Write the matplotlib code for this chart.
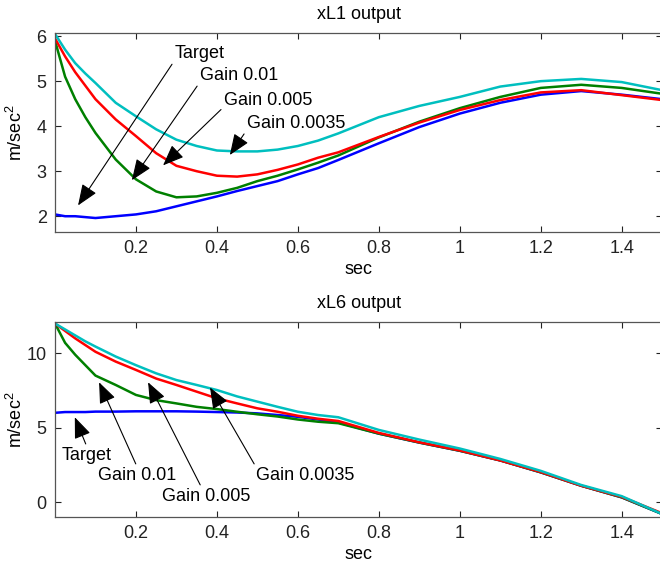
import matplotlib
matplotlib.use("Agg")
import matplotlib.pyplot as plt

plt.rcParams['font.family'] = ['Liberation Sans', 'DejaVu Sans']
plt.rcParams['mathtext.fontset'] = 'custom'
plt.rcParams['mathtext.rm'] = 'Liberation Sans'
plt.rcParams['mathtext.it'] = 'Liberation Sans:italic'
plt.rcParams['font.size'] = 13

# time samples (sec)
t = [0, 0.025, 0.05, 0.075, 0.1, 0.15, 0.2, 0.25, 0.3, 0.35, 0.4, 0.45, 0.5,
     0.55, 0.6, 0.65, 0.7, 0.8, 0.9, 1.0, 1.1, 1.2, 1.3, 1.4, 1.5]

# xL1 output
l1_target = [2.04, 2.0, 2.0, 1.98, 1.96, 2.0, 2.04, 2.11, 2.22, 2.33, 2.44, 2.56, 2.67,
             2.78, 2.93, 3.07, 3.25, 3.62, 3.98, 4.28, 4.52, 4.7, 4.78, 4.7, 4.6]
l1_g001 = [5.9, 5.1, 4.6, 4.2, 3.85, 3.26, 2.82, 2.55, 2.42, 2.44, 2.52, 2.63, 2.78,
           2.9, 3.04, 3.19, 3.35, 3.75, 4.1, 4.4, 4.65, 4.85, 4.92, 4.85, 4.72]
l1_g0005 = [5.95, 5.55, 5.2, 4.9, 4.6, 4.15, 3.78, 3.4, 3.12, 3.0, 2.9, 2.88, 2.93,
            3.03, 3.15, 3.3, 3.42, 3.76, 4.08, 4.36, 4.58, 4.75, 4.8, 4.69, 4.58]
l1_g00035 = [6.05, 5.7, 5.4, 5.17, 4.96, 4.52, 4.22, 3.93, 3.7, 3.56, 3.46, 3.44, 3.44,
             3.48, 3.56, 3.68, 3.84, 4.2, 4.45, 4.65, 4.88, 5.0, 5.05, 4.98, 4.8]

# xL6 output
l6_target = [6.0, 6.05, 6.05, 6.05, 6.08, 6.08, 6.1, 6.1, 6.1, 6.08, 6.05, 6.02, 5.96,
             5.85, 5.73, 5.55, 5.35, 4.6, 4.0, 3.45, 2.8, 2.0, 1.1, 0.32, -0.8]
l6_g001 = [12.0, 10.7, 9.9, 9.2, 8.5, 7.87, 7.2, 6.85, 6.63, 6.4, 6.25, 6.07, 5.9,
           5.75, 5.55, 5.4, 5.3, 4.6, 4.0, 3.45, 2.8, 2.0, 1.1, 0.32, -0.8]
l6_g0005 = [12.0, 11.5, 11.0, 10.55, 10.1, 9.44, 8.88, 8.3, 7.87, 7.42, 6.97, 6.63, 6.3,
            6.07, 5.8, 5.6, 5.45, 4.65, 4.02, 3.47, 2.8, 2.02, 1.1, 0.35, -0.75]
l6_g00035 = [12.0, 11.6, 11.2, 10.8, 10.45, 9.78, 9.2, 8.65, 8.2, 7.87, 7.53, 7.1, 6.75,
             6.4, 6.07, 5.85, 5.7, 4.85, 4.2, 3.6, 2.9, 2.1, 1.15, 0.4, -0.8]

labels = ['Target', 'Gain 0.01', 'Gain 0.005', 'Gain 0.0035']
colors = ['#0000ff', '#008000', '#ff0000', '#00bfbf']
xticks = [0.2, 0.4, 0.6, 0.8, 1, 1.2, 1.4]
xticklabels = ['0.2', '0.4', '0.6', '0.8', '1', '1.2', '1.4']

fig = plt.figure(figsize=(6.6, 5.69), dpi=100)
ax1 = fig.add_axes([0.0833, 0.5923, 0.92, 0.3497])
ax2 = fig.add_axes([0.0833, 0.0914, 0.92, 0.3427])

for ax, series in [(ax1, [l1_target, l1_g001, l1_g0005, l1_g00035]),
                   (ax2, [l6_target, l6_g001, l6_g0005, l6_g00035])]:
    for y, c in zip(series, colors):
        ax.plot(t, y, color=c, lw=1.8)
    ax.set_xlim(0, 1.5)
    ax.set_xticks(xticks)
    ax.set_xticklabels(xticklabels)
    ax.tick_params(direction='in', top=True, right=True, length=4, pad=6,
                   colors='#222222')
    for s in ax.spines.values():
        s.set_color('#555555')
        s.set_linewidth(0.9)
    ax.set_xlabel('sec', labelpad=3)
    ax.set_ylabel('m/sec$^2$')
    ax.yaxis.set_label_coords(-0.047, 0.5)

ax1.set_ylim(1.65, 6.07)
ax1.set_yticks([2, 3, 4, 5, 6])
ax1.set_title('xL1 output', fontsize=13, pad=10)

ax2.set_ylim(-1.0, 12.1)
ax2.set_yticks([0, 5, 10])
ax2.set_title('xL6 output', fontsize=13, pad=10)


def arrow(relpos):
    return dict(arrowstyle='-|>,head_length=1.0,head_width=0.4', color='black',
                lw=0.8, shrinkA=0, shrinkB=0, relpos=relpos)


# top panel labels
tips1 = [(0.057, 2.24), (0.19, 2.8), (0.267, 3.13), (0.432, 3.36)]
texts1 = [(0.296, 5.62), (0.358, 5.13), (0.417, 4.58), (0.474, 4.07)]
for lab, tip, pos in zip(labels, tips1, texts1):
    ax1.annotate(lab, xy=tip, xytext=pos, ha='left', va='center',
                 arrowprops=arrow((0, 0.1)))

# bottom panel labels
tips2 = [(0.049, 5.7), (0.109, 8.05), (0.23, 8.05), (0.383, 7.7)]
texts2 = [(0.017, 3.15), (0.106, 1.81), (0.264, 0.4), (0.496, 1.81)]
rels2 = [(0.5, 1), (0.5, 1), (0.45, 1), (0, 1)]
for lab, tip, pos, rp in zip(labels, tips2, texts2, rels2):
    ax2.annotate(lab, xy=tip, xytext=pos, ha='left', va='center',
                 arrowprops=arrow(rp))

fig.savefig('out.png', dpi=100)
